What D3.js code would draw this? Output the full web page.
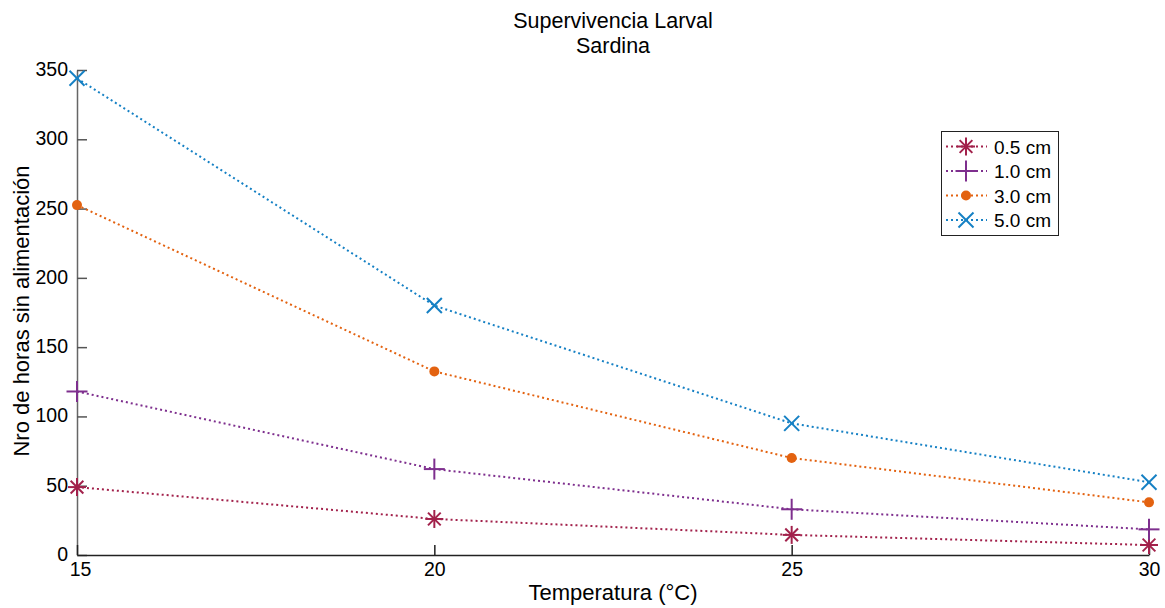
<!DOCTYPE html>
<html><head><meta charset="utf-8">
<script src="https://cdn.jsdelivr.net/npm/d3@7"></script>
<style>body{margin:0;background:#fff;}svg{display:block;font-family:"Liberation Sans",Arial,sans-serif;}</style>
</head><body><svg id="c" width="1165" height="608"></svg>
<script>
const temps = [15, 20, 25, 30];
const s05 = [49, 26, 14.5, 7.2];
const s10 = [118, 62, 33, 18.5];
const s30 = [252.5, 132.5, 70, 38];
const s50 = [344, 180, 95, 52.5];
const seriesNames = ["0.5 cm", "1.0 cm", "3.0 cm", "5.0 cm"];
const yTicks = [0, 50, 100, 150, 200, 250, 300, 350];
const xTicks = [15, 20, 25, 30];
const series = [
  {name: seriesNames[0], values: s05, color: "#A2214B", marker: "star"},
  {name: seriesNames[1], values: s10, color: "#7E2F8E", marker: "plus"},
  {name: seriesNames[2], values: s30, color: "#E36210", marker: "dot"},
  {name: seriesNames[3], values: s50, color: "#1580C4", marker: "x"}
];
const svg = d3.select("#c");
const L = 77, R = 1149, T = 70, B = 555;
const x = d3.scaleLinear().domain([15, 30]).range([L, R]);
const y = d3.scaleLinear().domain([0, 350]).range([B, T]);
const FF = "Liberation Sans, Arial, sans-serif";

// axes
const yAx = svg.append("g").attr("transform", `translate(${L},0)`)
  .call(d3.axisLeft(y).tickValues(yTicks).tickSize(-10).tickSizeOuter(0).tickPadding(16));
yAx.select(".domain").attr("stroke", "#666").attr("stroke-width", 1.5);
yAx.selectAll(".tick line").attr("stroke", "#555").attr("stroke-width", 1.5);
yAx.selectAll("text").attr("font-size", 19.5).attr("fill", "#000").attr("font-family", FF).attr("dx", 7).attr("dy", "0.28em");
const xAx = svg.append("g").attr("transform", `translate(0,${B})`)
  .call(d3.axisBottom(x).tickValues(xTicks).tickSize(-10).tickSizeOuter(0).tickPadding(7));
xAx.select(".domain").attr("stroke", "#222").attr("stroke-width", 1.5);
xAx.selectAll(".tick line").attr("stroke", "#222").attr("stroke-width", 1.5);
xAx.selectAll("text").attr("font-size", 19.5).attr("fill", "#000").attr("font-family", FF)
  .attr("dx", d => d === 15 ? 3 : 0);

// labels
svg.append("text").attr("x", 613).attr("y", 28).attr("text-anchor", "middle").attr("font-size", 21.5).text("Supervivencia Larval");
svg.append("text").attr("x", 613).attr("y", 53).attr("text-anchor", "middle").attr("font-size", 21.5).text("Sardina");
svg.append("text").attr("x", 613).attr("y", 600).attr("text-anchor", "middle").attr("font-size", 22).text("Temperatura (°C)");
svg.append("text").attr("transform", "translate(29,311) rotate(-90)").attr("text-anchor", "middle").attr("font-size", 22).text("Nro de horas sin alimentación");

function drawMarker(g, type, cx, cy, color) {
  const m = g.append("g").attr("transform", `translate(${cx},${cy})`).attr("stroke", color).attr("stroke-width", 2).attr("fill", "none");
  if (type === "star") {
    const r = 9;
    [0, 45, 90, 135].forEach(a => {
      const rad = a * Math.PI / 180;
      m.append("line").attr("x1", -r * Math.cos(rad)).attr("y1", -r * Math.sin(rad)).attr("x2", r * Math.cos(rad)).attr("y2", r * Math.sin(rad));
    });
  } else if (type === "plus") {
    const r = 10.5;
    m.append("line").attr("x1", -r).attr("x2", r).attr("y1", 0).attr("y2", 0);
    m.append("line").attr("y1", -r).attr("y2", r).attr("x1", 0).attr("x2", 0);
  } else if (type === "x") {
    const r = 7.5;
    m.append("line").attr("x1", -r).attr("y1", -r).attr("x2", r).attr("y2", r);
    m.append("line").attr("x1", -r).attr("y1", r).attr("x2", r).attr("y2", -r);
  } else {
    m.append("circle").attr("r", 5).attr("fill", color).attr("stroke", "none");
  }
}

const line = d3.line().x((d, i) => x(temps[i])).y(d => y(d));
series.forEach(s => {
  svg.append("path").datum(s.values).attr("d", line).attr("fill", "none")
    .attr("stroke", s.color).attr("stroke-width", 2).attr("stroke-dasharray", "2,3");
  s.values.forEach((v, i) => drawMarker(svg, s.marker, x(temps[i]), y(v), s.color));
});

// legend
const lg = svg.append("g");
lg.append("rect").attr("x", 941.5).attr("y", 131.5).attr("width", 117).attr("height", 104).attr("fill", "#fff").attr("stroke", "#222").attr("stroke-width", 1);
series.forEach((s, i) => {
  const ly = 146.5 + i * 24.5;
  lg.append("line").attr("x1", 946).attr("x2", 987).attr("y1", ly).attr("y2", ly)
    .attr("stroke", s.color).attr("stroke-width", 2).attr("stroke-dasharray", "2,3");
  drawMarker(lg, s.marker, 966, ly, s.color);
  lg.append("text").attr("x", 994).attr("y", ly + 7).attr("font-size", 19).text(s.name);
});
</script></body></html>
